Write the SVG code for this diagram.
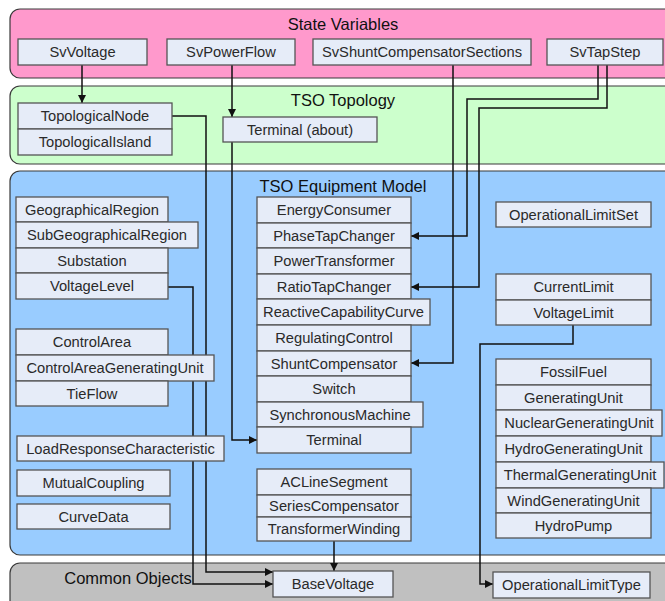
<svg xmlns="http://www.w3.org/2000/svg" width="665" height="601" viewBox="0 0 665 601">
<style>
.pnl{stroke:#3a3a3a;stroke-width:1.2}
.ttl{font-family:"Liberation Sans",Arial,sans-serif;font-size:16.5px;fill:#111;text-anchor:middle}
.bx{fill:#e6ecf8;stroke:#555;stroke-width:1.3}
.lb{font-family:"Liberation Sans",Arial,sans-serif;font-size:14.7px;fill:#2a2a2a;text-anchor:middle}
.cn{fill:none;stroke:#111;stroke-width:1.5}
</style>
<defs>
<marker id="ah" viewBox="0 0 10 10" refX="10" refY="5" markerWidth="8" markerHeight="8" markerUnits="userSpaceOnUse" orient="auto"><path d="M0,0 L10,5 L0,10 Z" fill="#111"/></marker>
</defs>
<rect width="665" height="601" fill="#fff"/>
<g id="panels">
<rect class="pnl" x="10" y="9" width="680" height="69" rx="10" fill="#ff99cc"/>
<rect class="pnl" x="10" y="86" width="680" height="78" rx="10" fill="#ccffcc"/>
<rect class="pnl" x="10" y="171" width="680" height="384" rx="10" fill="#99ccff"/>
<rect class="pnl" x="10" y="563" width="680" height="60" rx="10" fill="#c0c0c0"/>
<text class="ttl" x="343" y="30">State Variables</text>
<text class="ttl" x="343" y="106">TSO Topology</text>
<text class="ttl" x="343" y="192">TSO Equipment Model</text>
<text class="ttl" x="128" y="584">Common Objects</text>
</g>
<g id="connectors">
<path class="cn" d="M82,65 V103" marker-end="url(#ah)"/>
<path class="cn" d="M232,65 V117" marker-end="url(#ah)"/>
<path class="cn" d="M453,65 V363 H411" marker-end="url(#ah)"/>
<path class="cn" d="M598,65 V99 H467 V236 H411" marker-end="url(#ah)"/>
<path class="cn" d="M607,65 V108 H479 V287 H411" marker-end="url(#ah)"/>
<path class="cn" d="M172,116 H206 V572 H273" marker-end="url(#ah)"/>
<path class="cn" d="M168,287 H193 V584 H273" marker-end="url(#ah)"/>
<path class="cn" d="M232,142 V440 H257" marker-end="url(#ah)"/>
<path class="cn" d="M334,541 V571" marker-end="url(#ah)"/>
<path class="cn" d="M573,325 V344 H480 V584 H493" marker-end="url(#ah)"/>
</g>
<g id="SvVoltage"><rect class="bx" x="18" y="39" width="129" height="26"/><text class="lb" x="82.5" y="57">SvVoltage</text></g>
<g id="SvPowerFlow"><rect class="bx" x="167" y="39" width="128" height="26"/><text class="lb" x="231" y="57">SvPowerFlow</text></g>
<g id="SvShuntCompensatorSections"><rect class="bx" x="313" y="39" width="218" height="26"/><text class="lb" x="422" y="57">SvShuntCompensatorSections</text></g>
<g id="SvTapStep"><rect class="bx" x="547" y="39" width="116" height="26"/><text class="lb" x="605" y="57">SvTapStep</text></g>
<g id="TopologicalNode"><rect class="bx" x="18" y="103" width="154" height="26"/><text class="lb" x="95" y="121">TopologicalNode</text></g>
<g id="TopologicalIsland"><rect class="bx" x="18" y="129" width="154" height="26"/><text class="lb" x="95" y="147">TopologicalIsland</text></g>
<g id="TerminalAbout"><rect class="bx" x="223" y="117" width="154" height="25"/><text class="lb" x="300" y="134.5">Terminal (about)</text></g>
<g id="GeographicalRegion"><rect class="bx" x="16" y="197" width="152" height="25"/><text class="lb" x="92" y="214.5">GeographicalRegion</text></g>
<g id="SubGeographicalRegion"><rect class="bx" x="16" y="222" width="182" height="26"/><text class="lb" x="107" y="240">SubGeographicalRegion</text></g>
<g id="Substation"><rect class="bx" x="16" y="248" width="152" height="25"/><text class="lb" x="92" y="265.5">Substation</text></g>
<g id="VoltageLevel"><rect class="bx" x="16" y="273" width="152" height="26"/><text class="lb" x="92" y="291">VoltageLevel</text></g>
<g id="ControlArea"><rect class="bx" x="16" y="329" width="152" height="26"/><text class="lb" x="92" y="347">ControlArea</text></g>
<g id="ControlAreaGeneratingUnit"><rect class="bx" x="16" y="355" width="198" height="26"/><text class="lb" x="115" y="373">ControlAreaGeneratingUnit</text></g>
<g id="TieFlow"><rect class="bx" x="16" y="381" width="152" height="25"/><text class="lb" x="92" y="398.5">TieFlow</text></g>
<g id="LoadResponseCharacteristic"><rect class="bx" x="17" y="436" width="207" height="25"/><text class="lb" x="120.5" y="453.5">LoadResponseCharacteristic</text></g>
<g id="MutualCoupling"><rect class="bx" x="17" y="470" width="153" height="26"/><text class="lb" x="93.5" y="488">MutualCoupling</text></g>
<g id="CurveData"><rect class="bx" x="17" y="504" width="153" height="25"/><text class="lb" x="93.5" y="521.5">CurveData</text></g>
<g id="EnergyConsumer"><rect class="bx" x="257" y="197" width="154" height="26"/><text class="lb" x="334" y="215">EnergyConsumer</text></g>
<g id="PhaseTapChanger"><rect class="bx" x="257" y="223" width="154" height="25"/><text class="lb" x="334" y="240.5">PhaseTapChanger</text></g>
<g id="PowerTransformer"><rect class="bx" x="257" y="248" width="154" height="26"/><text class="lb" x="334" y="266">PowerTransformer</text></g>
<g id="RatioTapChanger"><rect class="bx" x="257" y="274" width="154" height="25"/><text class="lb" x="334" y="291.5">RatioTapChanger</text></g>
<g id="ReactiveCapabilityCurve"><rect class="bx" x="257" y="299" width="173" height="26"/><text class="lb" x="343.5" y="317">ReactiveCapabilityCurve</text></g>
<g id="RegulatingControl"><rect class="bx" x="257" y="325" width="154" height="26"/><text class="lb" x="334" y="343">RegulatingControl</text></g>
<g id="ShuntCompensator"><rect class="bx" x="257" y="351" width="154" height="25"/><text class="lb" x="334" y="368.5">ShuntCompensator</text></g>
<g id="Switch"><rect class="bx" x="257" y="376" width="154" height="26"/><text class="lb" x="334" y="394">Switch</text></g>
<g id="SynchronousMachine"><rect class="bx" x="257" y="402" width="166" height="25"/><text class="lb" x="340" y="419.5">SynchronousMachine</text></g>
<g id="Terminal"><rect class="bx" x="257" y="427" width="154" height="26"/><text class="lb" x="334" y="445">Terminal</text></g>
<g id="ACLineSegment"><rect class="bx" x="257" y="469" width="154" height="26"/><text class="lb" x="334" y="487">ACLineSegment</text></g>
<g id="SeriesCompensator"><rect class="bx" x="257" y="495" width="154" height="22"/><text class="lb" x="334" y="511">SeriesCompensator</text></g>
<g id="TransformerWinding"><rect class="bx" x="257" y="517" width="154" height="24"/><text class="lb" x="334" y="534">TransformerWinding</text></g>
<g id="OperationalLimitSet"><rect class="bx" x="496" y="202" width="155" height="25"/><text class="lb" x="573.5" y="219.5">OperationalLimitSet</text></g>
<g id="CurrentLimit"><rect class="bx" x="496" y="274" width="155" height="26"/><text class="lb" x="573.5" y="292">CurrentLimit</text></g>
<g id="VoltageLimit"><rect class="bx" x="496" y="300" width="155" height="25"/><text class="lb" x="573.5" y="317.5">VoltageLimit</text></g>
<g id="FossilFuel"><rect class="bx" x="496" y="359" width="155" height="26"/><text class="lb" x="573.5" y="377">FossilFuel</text></g>
<g id="GeneratingUnit"><rect class="bx" x="496" y="385" width="155" height="25"/><text class="lb" x="573.5" y="402.5">GeneratingUnit</text></g>
<g id="NuclearGeneratingUnit"><rect class="bx" x="496" y="410" width="166" height="26"/><text class="lb" x="579" y="428">NuclearGeneratingUnit</text></g>
<g id="HydroGeneratingUnit"><rect class="bx" x="496" y="436" width="155" height="26"/><text class="lb" x="573.5" y="454">HydroGeneratingUnit</text></g>
<g id="ThermalGeneratingUnit"><rect class="bx" x="496" y="462" width="168" height="26"/><text class="lb" x="580" y="480">ThermalGeneratingUnit</text></g>
<g id="WindGeneratingUnit"><rect class="bx" x="496" y="488" width="155" height="25"/><text class="lb" x="573.5" y="505.5">WindGeneratingUnit</text></g>
<g id="HydroPump"><rect class="bx" x="496" y="513" width="155" height="25"/><text class="lb" x="573.5" y="530.5">HydroPump</text></g>
<g id="BaseVoltage"><rect class="bx" x="273" y="571" width="120" height="26"/><text class="lb" x="333" y="589">BaseVoltage</text></g>
<g id="OperationalLimitType"><rect class="bx" x="493" y="572" width="157" height="26"/><text class="lb" x="571.5" y="590">OperationalLimitType</text></g>
</svg>
